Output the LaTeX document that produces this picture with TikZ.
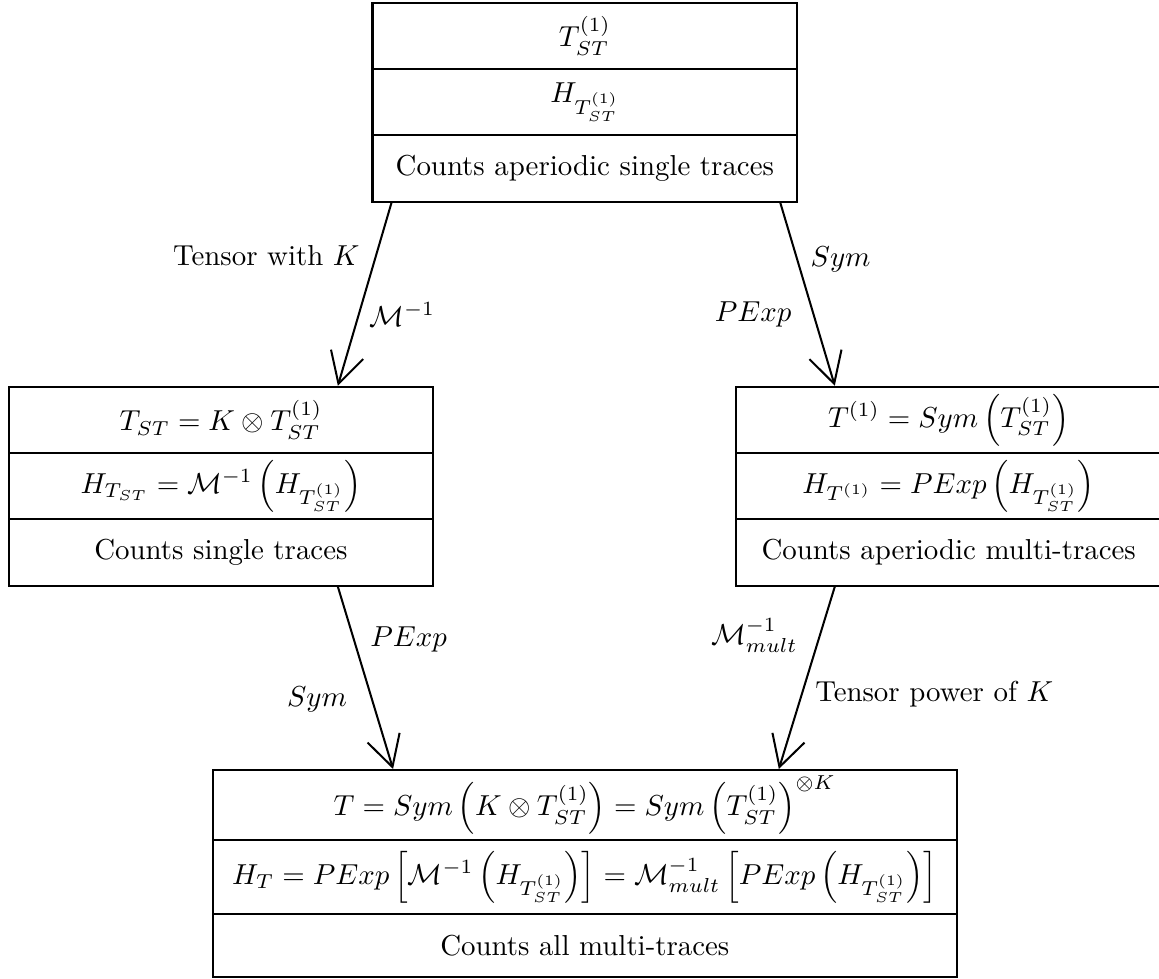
\documentclass[tikz,border=0pt]{standalone}
\usepackage{amsmath}
\usetikzlibrary{arrows.meta,shapes,positioning,calc}
\newcommand{\rowbox}[2][15.6pt]{\vbox to #1{\vss\hbox{#2}\vss}}

\begin{document}
\begin{tikzpicture}
[auto,
edge/.style={black,-{Straight Barb[length=10.6pt,width=11.6pt]},line width=.7pt},
split/.style={draw=black,line width=.7pt,rectangle split,rectangle split parts=3},
wide/.style={split,minimum width=5.17cm}]
\useasboundingbox (-7.12,0.02) rectangle (6.99,-11.89);
%%
\node (top) [wide,anchor=north] at (0,0)
{\rowbox{$T^{(1)}_{ST}$}
\nodepart{two} \rowbox{$H_{T^{(1)}_{ST}}$}
\nodepart{three} \rowbox{Counts aperiodic single traces}};
%%
\node (single) [wide,below=2.23cm of top,xshift=-4.43cm]
{\rowbox{$T_{ST} = K\otimes T^{(1)}_{ST}$}
\nodepart{two} \rowbox{$H_{T_{ST}} = \mathcal{M}^{-1}\left(H_{T^{(1)}_{ST}}\right)$}
\nodepart{three} \rowbox{Counts single traces}};
\node (multi) [wide,below=2.23cm of top,xshift=4.43cm]
{\rowbox{$T^{(1)} = Sym\left(T^{(1)}_{ST}\right)$}
\nodepart{two} \rowbox{$H_{T^{(1)}} = PExp\left(H_{T^{(1)}_{ST}}\right)$}
\nodepart{three} \rowbox{Counts aperiodic multi-traces}};
%%
\coordinate (mid) at ($(single.south)!.5!(multi.south)$);
\node (all) [split,minimum width=9.06cm,below=2.22cm of mid]
{\rowbox[17pt]{$T = Sym\left(K\otimes T^{(1)}_{ST}\right) = Sym\left(T^{(1)}_{ST}\right)^{\otimes K}$}
\nodepart{two} \rowbox[18pt]{$H_T = PExp\left[\mathcal{M}^{-1}\left(H_{T^{(1)}_{ST}}\right)\right] = \mathcal{M}^{-1}_{mult}\left[PExp\left(H_{T^{(1)}_{ST}}\right)\right]$}
\nodepart{three} \rowbox[14.5pt]{Counts all multi-traces}};
%%
\draw[edge] ($(top.south west)!.047!(top.south east)$) --
node[pos=.29,left=2pt] {Tensor with $K$} node[pos=.61,right] {$\mathcal{M}^{-1}$}
($(single.north west)!.774!(single.north east)$);
\draw[edge] ($(top.south west)!.958!(top.south east)$) --
node[pos=.31,right=1pt] {$Sym$} node[pos=.61,left=4pt] {$PExp$}
($(multi.north west)!.233!(multi.north east)$);
\draw[edge] ($(single.south west)!.774!(single.south east)$) --
node[pos=.29,right=2pt] {$PExp$} node[pos=.62,left=5pt] {$Sym$}
($(all.north west)!.243!(all.north east)$);
\draw[edge] ($(multi.south west)!.233!(multi.south east)$) --
node[pos=.27,left=4pt] {$\mathcal{M}^{-1}_{mult}$} node[pos=.59,right=1pt] {Tensor power of $K$}
($(all.north west)!.76!(all.north east)$);
\end{tikzpicture}
\end{document}
